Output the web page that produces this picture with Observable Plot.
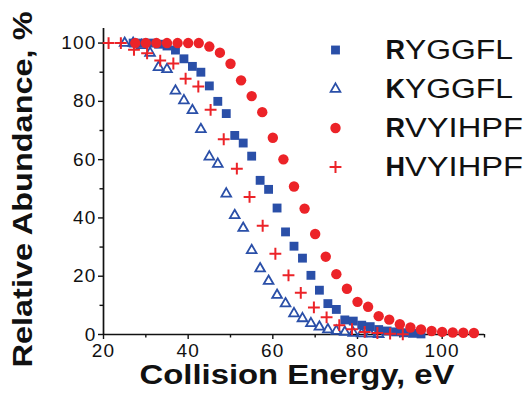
<!DOCTYPE html>
<html><head><meta charset="utf-8">
<script src="https://cdn.jsdelivr.net/npm/d3@7"></script>
<script src="https://cdn.jsdelivr.net/npm/@observablehq/plot@0.6"></script>
<style>
body{margin:0;background:#fff;}
#chart svg{display:block}
</style></head><body><div id="chart"></div><script>
// RYGGFL (filled blue squares)
const rygX = [27,29,31,33,35,37,39,41,43,45,47,49,51,53,55,57,59,61,63,65,67,69,71,73,75,77,79,81,83,85,87,89,91,93,95];
const rygY = [100,100,100,99.6,99,97.6,94.6,92,90,85.3,80,75.8,68.3,65.7,61.2,52.9,49.8,43.4,35.2,30.3,26.2,20.3,15.2,10.6,8.6,5.0,4.6,3.2,2.7,1.7,1.2,0.9,0.6,0.4,0.2];
// KYGGFL (open blue triangles)
const kygX = [25,27,29,31,33,35,37,39,41,43,45,47,49,51,53,55,57,59,61,63,65,67,69,71,73,75,77,79,81,83,85];
const kygY = [100,100,99.2,96.6,91.7,91,83.6,80.3,76.9,70.4,61,58.5,48.3,40.9,36.5,28.9,22.6,18.3,13.5,10.6,7.2,5.5,3.8,2.6,1.7,1.2,0.8,0.5,0.3,0.2,0.1];
// RVYIHPF (filled red circles)
const rvyX = [27.5,30,32.5,35,37.5,40,42.5,45,47.5,50,52.5,55,57.5,60,62.5,65,67.5,70,72.5,75,77.5,80,82.5,85,87.5,90,92.5,95,97.5,100,102.5,105,107.5];
const rvyY = [100,100,100,100,100,100,100,98.8,96.7,92.9,87.2,81.8,76.3,67.5,60.1,50.8,43.2,34.5,26.7,20.7,15.7,11.2,9.5,6.3,5.1,3.5,2.4,1.7,1.2,0.9,0.7,0.6,0.5];
// HVYIHPF (red plus signs)
const hvyX = [21.2,24.1,27.2,30.3,33.4,36.5,39.4,42.4,45.3,48.4,51.5,54.5,57.6,60.6,63.7,66.6,69.7,72.7,75.7,78.7,81.7,84.7,87.7,90.7];
const hvyY = [100,100,97.7,96.5,94,93,87.8,85.1,77.1,67,56.9,47.2,37.3,27.7,20.3,14.3,9.3,5.9,3.2,1.8,0.9,0.5,0.3,0.1];

const xMajor = [20,40,60,80,100];
const xMinor = [30,50,70,90,110];
const yMajor = [0,20,40,60,80,100];
const yMinor = [10,30,50,70,90];

const legendBold = ["R","K","R","H"];
const legendRest = ["YGGFL","YGGFL","VYIHPF","VYIHPF"];
const xTitle = "Collision Energy, eV";
const yTitle = "Relative Abundance, %";

const BLUE = "#2a4fa8", RED = "#ec2328";
const styles = [
  {symbol:"square", fill:BLUE, stroke:null, r:5},
  {symbol:"triangle", fill:"none", stroke:BLUE, strokeWidth:1.8, r:3.6},
  {symbol:"circle", fill:RED, stroke:null, r:5.2},
  {symbol:"plus", fill:"none", stroke:RED, strokeWidth:2, r:3.9}
];
const toRows = (xs, ys) => xs.map((x,i)=>({x, y: ys[i]}));
const series = [toRows(rygX,rygY), toRows(kygX,kygY), toRows(rvyX,rvyY), toRows(hvyX,hvyY)];

function dotMark(data, s, extra={}) {
  const o = {symbol: s.symbol, r: s.r, fill: s.fill, ...extra};
  if (s.stroke) { o.stroke = s.stroke; o.strokeWidth = s.strokeWidth; }
  return Plot.dot(data, o);
}

const LFS = 27;
const legendMarks = [];
legendBold.forEach((b,i)=>{
  const dy = 21.5 + 39*i;
  legendMarks.push(dotMark([0], styles[i], {x:null, y:null, frameAnchor:"top-left", dx:232, dy}));
  legendMarks.push(Plot.text([b], {text:d=>d, frameAnchor:"top-left", dx:282, dy, textAnchor:"start", lineAnchor:"middle", fontSize:LFS, fontWeight:"bold", fill:"#111"}));
  legendMarks.push(Plot.text([legendRest[i]], {text:d=>d, frameAnchor:"top-left", dx:282 + 0.722*LFS, dy, textAnchor:"start", lineAnchor:"middle", fontSize:LFS, fill:"#111"}));
});

const drawOrder = [1,0,3,2];
const chart = Plot.plot({
  width:525, height:398,
  marginTop:28, marginBottom:64, marginLeft:103, marginRight:41,
  style:{fontFamily:"'Liberation Sans', Arial, sans-serif", background:"white", color:"#111"},
  x:{domain:[20,110]},
  y:{domain:[0,105]},
  marks:[
    Plot.axisX(xMajor, {tickSize:5, tickPadding:4, fontSize:19, label:null, strokeWidth:1.4}),
    Plot.axisX(xMinor, {tickSize:3.5, fill:"none", label:null, strokeWidth:1.4}),
    Plot.axisY(yMajor, {tickSize:5, tickPadding:2, fontSize:19, label:null, strokeWidth:1.4}),
    Plot.axisY(yMinor, {tickSize:3.5, fill:"none", label:null, strokeWidth:1.4}),
    Plot.ruleY([0], {stroke:"#111", strokeWidth:1.7}),
    Plot.ruleX([20], {stroke:"#111", strokeWidth:1.7}),
    ...drawOrder.map(i => dotMark(series[i], styles[i], {x:"x", y:"y"})),
    ...legendMarks,
    Plot.text([xTitle], {text:d=>d, frameAnchor:"bottom", textAnchor:"middle", lineAnchor:"middle", dx:3, dy:41, fontSize:28, fontWeight:"bold", fill:"#111"}),
    Plot.text([yTitle], {text:d=>d, frameAnchor:"left", textAnchor:"middle", lineAnchor:"middle", rotate:-90, dx:-80, dy:8, fontSize:28, fontWeight:"bold", fill:"#111"})
  ]
});
// the original lettering is wider than Liberation Sans: stretch to the measured lengths
const setLen = (el, len) => { el.setAttribute("textLength", len); el.setAttribute("lengthAdjust", "spacingAndGlyphs"); };
d3.select(chart).selectAll("text").each(function(){
  const t = this.textContent;
  if (t === xTitle) setLen(this, 315);
  else if (t === yTitle) setLen(this, 356);
  else if (t === "YGGFL") setLen(this, 108);
  else if (t === "VYIHPF") setLen(this, 118);
  else if (/^\d+$/.test(t)) this.setAttribute("letter-spacing", "1.2");
});
document.getElementById("chart").appendChild(chart);
</script></body></html>
